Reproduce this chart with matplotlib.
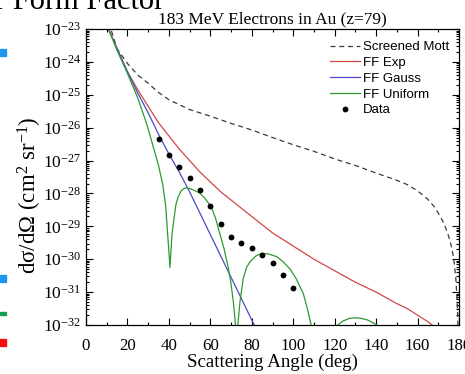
import numpy as np
import matplotlib
matplotlib.use("Agg")
import matplotlib.pyplot as plt
from matplotlib.patches import Rectangle
from matplotlib.ticker import LogLocator, MultipleLocator, NullFormatter

plt.rcParams['mathtext.fontset'] = 'custom'
plt.rcParams['mathtext.rm'] = 'Liberation Serif'
plt.rcParams['mathtext.it'] = 'Liberation Serif:italic'
plt.rcParams['font.family'] = ['Liberation Serif', 'DejaVu Serif']

# ---- data (log10 of cross section, cm^2/sr) ----
mott_angle = [11, 12, 15, 20, 25, 30, 35, 40, 45, 50, 55, 60, 70, 80, 90, 100, 110,
              120, 130, 140, 150, 155, 160, 165, 168, 171, 173, 175, 176.5, 177.5,
              178.5, 179.2, 179.7]
mott_log = [-22.8, -23.0, -23.6, -24.05, -24.4, -24.65, -24.93, -25.15, -25.3, -25.45,
            -25.55, -25.65, -25.87, -26.07, -26.3, -26.52, -26.72, -26.95, -27.15,
            -27.38, -27.6, -27.73, -27.92, -28.18, -28.4, -28.7, -28.95, -29.3, -29.65,
            -30.0, -30.6, -31.4, -32.5]

exp_angle = [10.5, 15, 20, 25, 30, 35, 40, 45, 50, 55, 60, 65, 70, 80, 90, 100, 110,
             120, 130, 140, 150, 155, 160, 165, 168]
exp_log = [-22.95, -23.6, -24.3, -24.85, -25.35, -25.85, -26.25, -26.65, -27.0, -27.35,
           -27.65, -27.95, -28.2, -28.7, -29.2, -29.6, -30.0, -30.35, -30.7, -31.0,
           -31.35, -31.5, -31.7, -31.9, -32.05]

gauss_angle = [10.5, 15, 20, 25, 30, 35, 40, 45, 50, 55, 60, 65, 70, 75, 80, 82]
gauss_log = [-22.95, -23.6, -24.3, -24.95, -25.55, -26.2, -26.8, -27.35, -27.95, -28.6,
             -29.25, -29.9, -30.55, -31.2, -31.85, -32.1]

unif_angle = [10.5, 15, 20, 25, 29.3, 33, 35, 37, 38.5, 39.4, 40.0, 40.5, 41.0, 41.5,
              42.5, 43.4, 44.5, 45.8, 47, 48.3, 50, 52, 54.7, 57, 60.3, 62.5, 64.7,
              66.7, 68.7, 70, 71.1, 72, 72.7, 73.4, 74.3, 75.9, 77.5, 79.2, 82, 84.8,
              88, 92, 95, 98.5, 101.5, 104.9, 107, 109, 110.5]
unif_log = [-22.95, -23.65, -24.35, -25.1, -25.89, -26.7, -27.15, -27.72, -28.4, -29.25,
            -29.75, -30.25, -29.75, -29.25, -28.75, -28.34, -28.1, -27.93, -27.86, -27.83,
            -27.85, -27.9, -27.98, -28.12, -28.39, -28.75, -29.25, -29.7, -30.27, -30.75,
            -31.3, -31.9, -32.6, -31.9, -31.3, -30.58, -30.25, -30.07, -29.9, -29.82,
            -29.84, -29.92, -30.07, -30.3, -30.6, -31.05, -31.55, -32.1, -32.5]

unif3_angle = [120, 121.5, 124, 127, 130, 133, 136, 139, 140.5, 142]
unif3_log = [-32.3, -32.0, -31.88, -31.8, -31.78, -31.8, -31.85, -31.95, -32.0, -32.3]

data_angle = [35, 40, 45, 50, 55, 60, 65, 70, 75, 80, 85, 90, 95, 100]
data_log = [-26.33, -26.83, -27.21, -27.53, -27.91, -28.39, -28.92, -29.32, -29.52,
            -29.66, -29.87, -30.13, -30.49, -30.86]

title = "183 MeV Electrons in Au (z=79)"
xticks = [0, 20, 40, 60, 80, 100, 120, 140, 160, 180]

W, H = 465, 374
fig = plt.figure(figsize=(W / 100, H / 100), dpi=100)
L, R, T, B = 86, 459, 29, 325
ax = fig.add_axes([L / W, 1 - B / H, (R - L) / W, (B - T) / H])

red = '#d04848'
blue = '#4a4ac8'
green = '#2e9a2e'
lw = 0.9
p = lambda v: np.power(10.0, np.array(v))
ax.plot(mott_angle, p(mott_log), color='#3a3a3a', lw=lw, ls=(0, (4, 3)), label='Screened Mott')
ax.plot(exp_angle, p(exp_log), color=red, lw=lw, label='FF Exp')
ax.plot(gauss_angle, p(gauss_log), color=blue, lw=lw, label='FF Gauss')
ax.plot(unif_angle, p(unif_log), color=green, lw=lw, label='FF Uniform')
ax.plot(unif3_angle, p(unif3_log), color=green, lw=lw)
ax.plot(data_angle, p(data_log), 'o', color='black', ms=4.2, mec='none', label='Data')

ax.set_yscale('log')
ax.set_xlim(0, 180)
ax.set_ylim(1e-32, 1e-23)
ax.set_xticks(xticks)
ax.xaxis.set_minor_locator(MultipleLocator(10))
ax.yaxis.set_major_locator(LogLocator(base=10, numticks=20))
ax.yaxis.set_minor_locator(LogLocator(base=10, subs=np.arange(2, 10), numticks=20))
ax.yaxis.set_minor_formatter(NullFormatter())
ax.tick_params(which='both', direction='in', top=True, right=True, width=0.8,
               labelsize=12.5, colors='black')
ax.tick_params(axis='x', labelsize=12.2, pad=9.5)
ax.tick_params(which='major', length=5)
ax.tick_params(which='minor', length=2.5)
for s in ax.spines.values():
    s.set_linewidth(0.9)

ax.set_title(title, fontsize=12.5, pad=4)
ax.set_xlabel('Scattering Angle (deg)', fontsize=13.6, labelpad=-0.5)
ax.set_ylabel('d\u03c3/d\u03a9 (cm$^{2}$ sr$^{-1}$)', fontsize=16.5)
ax.yaxis.set_label_coords((44 - L) / (R - L), (B - 195) / (B - T))

leg = ax.legend(loc='upper left', bbox_to_anchor=((330 - L) / (R - L), (B - 41) / (B - T)),
                frameon=False, borderpad=0, borderaxespad=0, handlelength=2.3,
                handletextpad=0.18, labelspacing=0.27,
                prop={'family': 'Liberation Sans', 'size': 9.5})

# slide fragments
fig.text(-0.01, 0.995, 'r Form Factor', fontsize=22, va='center', ha='left',
         family='Liberation Serif')
for (x0, y0, w, h, c) in [(0, 49, 6, 7, '#1e96f0'), (0, 275, 6, 7, '#1e96f0'),
                          (0, 312, 6, 3, '#10a050'), (0, 339, 6, 7, '#f01010')]:
    fig.patches.append(Rectangle((x0 / W, 1 - (y0 + h) / H), w / W, h / H,
                                 transform=fig.transFigure, color=c))

fig.savefig('out.png', dpi=100)
